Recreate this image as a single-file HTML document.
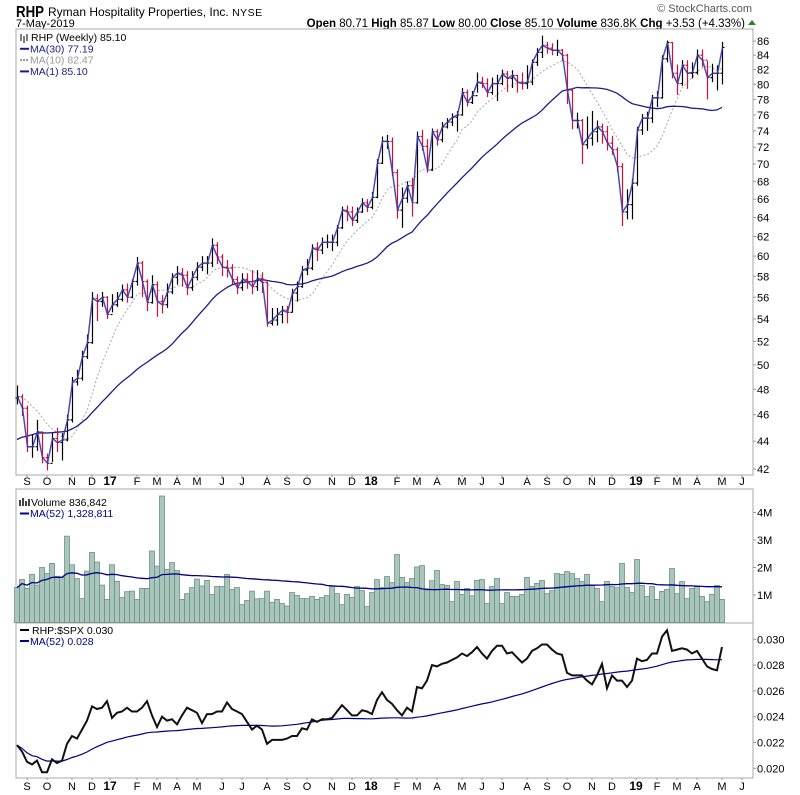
<!DOCTYPE html>
<html><head><meta charset="utf-8"><style>
body{margin:0;background:#fff;}
svg{display:block;font-family:"Liberation Sans",sans-serif;}
</style></head><body>
<svg id="chart" width="800" height="795" viewBox="0 0 800 795" xmlns="http://www.w3.org/2000/svg">
<text x="16" y="17" font-size="16" font-weight="bold" fill="#000" textLength="28" lengthAdjust="spacingAndGlyphs">RHP</text>
<text x="48" y="16" font-size="12" fill="#000">Ryman Hospitality Properties, Inc. <tspan font-size="10.5" letter-spacing="0.5">NYSE</tspan></text>
<text x="16" y="27" font-size="11" fill="#000">7-May-2019</text>
<text x="745" y="27" font-size="11.5" text-anchor="end" fill="#000"><tspan font-weight="bold">Open</tspan> 80.71 <tspan font-weight="bold">High</tspan> 85.87 <tspan font-weight="bold">Low</tspan> 80.00 <tspan font-weight="bold">Close</tspan> 85.10 <tspan font-weight="bold">Volume</tspan> 836.8K <tspan font-weight="bold">Chg</tspan> +3.53 (+4.33%)</text>
<polygon points="748,25 756,25 752,20" fill="#2e7d32"/>
<text x="752" y="12" font-size="11" text-anchor="end" fill="#555">© StockCharts.com</text>
<g id="g"></g>
</svg>
<script>
// ---------- data ----------
const months = ["S","O","N","D","17","F","M","A","M","J","J","A","S","O","N","D","18","F","M","A","M","J","J","A","S","O","N","D","19","F","M","A","M","J"];
const monthWeek = [2,6,11,15,18.6,24,28,32,36,41,45,50,54,58,63,67,70.8,76,80,84,89,93,97,102,106,110,115,119,123.8,128,132,136,141,145];
const priorCloses = [41.5,41.0,40.5,41.2,42.0,42.8,43.5,42.9,43.3,44.0,43.6,42.8,42.1,42.5,43.0,43.4,42.9,42.6,42.4,43.0,45.5,46.8,47.6,48.2,47.9,47.4,47.8,46.9,47.3];
const closes = [47.4,46.5,43.6,43.6,44.7,42.8,42.4,44.2,43.9,44.1,
45.6,48.6,48.9,50.7,51.9,55.9,55.6,56.0,54.4,55.3,
55.8,56.7,56.0,57.5,59.3,57.5,55.5,57.2,55.6,55.3,
56.5,57.9,58.3,58.1,56.9,57.9,58.9,59.3,59.3,61.1,
59.9,58.9,58.8,57.7,56.9,57.7,57.5,57.0,57.8,57.4,
53.6,53.9,54.4,54.8,54.6,56.4,57.0,58.6,58.8,60.8,
60.6,61.4,61.4,61.4,62.9,64.8,64.6,63.7,64.6,65.6,
65.1,66.2,70.1,72.7,72.7,69.0,64.8,66.1,67.5,65.6,
73.3,72.1,69.3,73.9,72.9,74.5,75.1,75.7,76.0,78.9,
77.6,78.5,80.3,80.1,78.9,80.1,80.1,81.4,80.8,81.2,
80.3,80.1,80.3,83.0,84.4,85.4,85.0,84.7,84.7,84.0,
79.2,75.3,75.3,72.3,73.1,73.9,74.5,73.9,72.5,71.7,
69.7,64.6,65.4,67.8,74.1,75.6,75.6,78.2,78.2,83.5,
85.8,81.5,80.1,82.6,81.5,81.6,84.0,83.3,80.9,81.5,
81.5,85.1];
const highs = [48.3,47.6,46.7,44.5,45.6,44.7,43.1,44.6,45.0,44.6,
46.0,49.0,49.6,51.2,52.6,56.5,56.3,56.5,56.1,56.3,
56.5,57.2,57.3,57.7,59.9,59.5,57.7,58.1,57.5,56.2,
57.3,58.3,59.0,58.8,58.5,58.5,59.4,60.0,60.0,61.8,
61.4,60.2,59.6,59.2,58.0,58.3,58.3,58.6,58.6,58.4,
57.5,55.0,55.0,55.2,55.2,56.8,57.5,59.0,59.7,61.2,
61.4,61.9,62.2,62.2,63.2,65.2,65.3,65.2,65.1,66.1,
66.0,66.8,70.6,73.3,73.5,73.2,69.4,67.3,68.0,68.4,
73.9,74.1,73.0,74.3,74.2,75.1,75.6,76.2,76.5,79.5,
79.3,79.1,81.6,81.0,80.8,80.9,81.3,82.0,81.8,81.9,
81.3,81.6,82.6,83.4,85.0,86.8,85.9,85.7,86.2,84.9,
84.2,79.5,76.3,75.5,75.8,76.5,75.3,74.9,74.6,73.4,
72.0,70.1,67.1,68.3,74.5,76.1,76.4,78.6,79.1,84.0,
86.1,85.9,82.7,83.3,83.3,83.0,84.8,84.8,83.2,82.8,
82.6,85.9];
const lows = [46.8,45.9,43.2,42.8,43.3,42.4,41.9,42.5,43.2,42.6,
44.0,45.4,48.3,48.7,50.5,51.8,53.8,55.1,54.0,54.6,
55.1,55.6,55.5,55.9,57.1,56.0,54.7,55.4,54.2,54.5,
55.0,56.3,57.2,57.0,56.2,56.6,57.6,58.5,58.2,58.9,
59.2,58.0,57.9,57.2,56.3,56.6,56.8,56.3,56.6,56.4,
53.3,53.4,53.4,53.6,53.6,54.6,55.6,56.9,58.1,58.6,
59.5,60.2,60.8,60.5,61.0,62.8,63.6,63.1,63.4,64.5,
64.6,64.9,66.1,70.0,71.8,68.6,63.9,62.9,65.6,64.1,
65.5,71.6,69.0,69.2,72.2,72.6,74.3,74.6,73.9,75.9,
77.1,77.4,78.9,79.5,78.3,78.6,77.8,79.9,79.0,79.5,
78.9,79.3,79.4,79.9,82.5,83.6,84.2,84.0,83.9,83.2,
77.4,74.2,74.3,70.0,71.8,72.2,72.6,72.4,71.6,71.1,
69.1,63.1,63.8,63.8,67.5,73.5,74.0,75.0,77.0,78.1,
83.0,80.8,78.6,79.8,79.4,80.8,81.3,82.4,78.0,80.3,
79.2,80.0];
const volumeM = [1.27,1.56,1.24,1.75,1.36,2.0,1.78,2.15,1.68,1.64,
3.14,2.1,1.6,0.87,1.87,2.55,2.2,1.36,0.84,2.1,
1.5,0.91,1.12,1.14,0.84,1.24,1.24,2.6,2.05,4.6,
1.93,2.18,1.89,0.84,1.05,1.27,1.58,1.33,1.53,1.02,
1.31,1.31,1.75,1.2,1.27,0.65,0.8,1.14,0.86,0.87,
1.14,0.73,0.84,0.69,0.6,1.09,0.98,0.87,0.87,0.95,
0.84,0.91,0.98,1.31,1.05,0.65,1.02,0.91,1.31,1.16,
0.58,1.09,1.56,1.27,1.67,1.45,2.47,1.64,1.45,1.6,
2.02,2.07,1.18,1.52,1.89,1.38,1.35,0.76,1.49,1.02,
1.24,0.97,1.53,1.56,0.69,1.31,1.6,0.69,1.09,0.95,
0.95,1.02,1.64,1.31,1.42,1.53,1.05,1.16,1.78,1.75,
1.85,1.78,1.6,1.49,1.75,1.35,1.24,0.76,1.49,1.31,
1.27,2.15,1.27,1.09,2.29,1.35,0.95,1.31,0.84,1.13,
1.2,1.96,1.05,1.49,0.87,1.24,1.31,0.95,0.76,1.02,
1.35,0.84];
const ratio = [.0218,.0213,.0205,.0203,.0206,.0197,.0197,.0207,.0204,.0206,
.0219,.0225,.0223,.0230,.0237,.0248,.0246,.0247,.0252,.0239,
.0243,.0244,.0247,.0244,.0244,.0247,.0252,.0241,.0232,.0240,
.0237,.0238,.0234,.0241,.0247,.0245,.0243,.0235,.0242,.0242,
.0244,.0244,.0251,.0246,.0244,.0242,.0236,.0230,.0233,.0230,
.0219,.0222,.0222,.0222,.0223,.0225,.0225,.0231,.0230,.0238,
.0236,.0238,.0238,.0239,.0244,.0249,.0245,.0241,.0241,.0245,
.0244,.0242,.0253,.0259,.0253,.0250,.0245,.0241,.0247,.0244,
.0263,.0262,.0268,.0280,.0279,.0281,.0282,.0284,.0286,.0289,
.0287,.0290,.0294,.0289,.0285,.0291,.0295,.0295,.0289,.0290,
.0286,.0282,.0285,.0291,.0293,.0296,.0296,.0292,.0289,.0288,
.0274,.0272,.0272,.0272,.0268,.0265,.0272,.0281,.0262,.0272,
.0268,.0268,.0263,.0268,.0285,.0283,.0284,.0289,.0289,.0302,
.0307,.0291,.0292,.0293,.0292,.0289,.0291,.0285,.0279,.0277,
.0276,.0294];
const priceTicks = [42,44,46,48,50,52,54,56,58,60,62,64,66,68,70,72,74,76,78,80,82,84,86];
const volTicks = [1,2,3,4];
const volTickLabels = ["1M","2M","3M","4M"];
const ratioTicks = [0.020,0.022,0.024,0.026,0.028,0.030];

// ---------- geometry ----------
const L=16,R=753;
const X = i => 17 + 5*i;
const P = {top:29,bot:475};
const V = {top:489,bot:623};
const Q = {top:623,bot:778};
const yP = p => 469 - 597*Math.log(p/42);
const yV = v => 622.5 - 27.5*v;
const yQ = r => 639.3 + (0.030 - r)*12900;
const NS="http://www.w3.org/2000/svg";
const g=document.getElementById('g');
function mk(tag,attrs,parent){const e=document.createElementNS(NS,tag);for(const k in attrs)e.setAttribute(k,attrs[k]);(parent||g).appendChild(e);return e;}
function line(pts){return pts.map((p,i)=>(i?'L':'M')+p[0].toFixed(1)+','+p[1].toFixed(1)).join('');}
function ma(arr,n,prior){const all=(prior||[]).concat(arr),off=(prior||[]).length,out=[];for(let i=0;i<arr.length;i++){const j=i+off,s=Math.max(0,j-n+1);let sum=0;for(let k=s;k<=j;k++)sum+=all[k];out.push(sum/(j-s+1));}return out;}

let e;
e=mk('rect',{x:L,y:P.top,width:R-L,height:P.bot-P.top,fill:'#fff',stroke:'#aaa'});

e=mk('rect',{x:L,y:V.top,width:R-L,height:V.bot-V.top,fill:'#fff',stroke:'#aaa'});

e=mk('rect',{x:L,y:Q.top,width:R-L,height:Q.bot-Q.top,fill:'#fff',stroke:'#aaa'});


[481,786].forEach((yy,row)=>{
  months.forEach((m,k)=>{
    const t=mk('text',{x:X(monthWeek[k]),y:yy+4,'font-size':(m.length>1?'12':'11'),'font-weight':(m.length>1?'bold':'normal'),'text-anchor':'middle',fill:'#000'});
    t.textContent=m;
    
    
    mk('line',{x1:X(monthWeek[k]),x2:X(monthWeek[k]),y1:row?Q.bot:P.bot,y2:(row?Q.bot:P.bot)+2,stroke:'#999'});
  });
});

priceTicks.forEach(p=>{
  const y=yP(p);
  mk('line',{x1:R,x2:R+3,y1:y,y2:y,stroke:'#999'});
  const t=mk('text',{x:R+4,y:y+4,'font-size':'11',fill:'#000'});
  t.textContent=p;
  
  
});

const ma30=ma(closes,30,priorCloses), ma10=ma(closes,10,priorCloses);
e=mk('path',{d:line(ma10.map((v,i)=>[X(i),yP(v)])),fill:'none',stroke:'#b4b4b4','stroke-width':1.2,'stroke-dasharray':'2,2'});

e=mk('path',{d:line(ma30.map((v,i)=>[X(i),yP(v)])),fill:'none',stroke:'#1c1c8c','stroke-width':1.3});


closes.forEach((c,i)=>{
  const o = i? closes[i-1] : priorCloses[priorCloses.length-1];
  const col = c<o ? '#d0103a' : '#000';
  const x=X(i)+0.5;
  const b=mk('path',{d:`M${x},${yP(highs[i])}V${yP(lows[i])}M${x-2},${yP(o)}H${x}M${x},${yP(c)}H${x+2}`,stroke:col,'stroke-width':1.2,fill:'none'});
  
  
});
e=mk('path',{d:line(closes.map((v,i)=>[X(i)+0.5,yP(v)])),fill:'none',stroke:'#3a3aa8','stroke-width':1.5,'stroke-opacity':0.9});


const lg=[['RHP (Weekly) 85.10','#000',null],['MA(30) 77.19','#1c1c8c','solid'],['MA(10) 82.47','#999','dot'],['MA(1) 85.10','#1c1c8c','solid']];
lg.forEach((r,k)=>{
  const y=41+k*11.3;
  if(r[2]){mk('line',{x1:20,x2:29,y1:y-3.5,y2:y-3.5,stroke:r[1],'stroke-width':2,'stroke-dasharray':r[2]==='dot'?'2,1':'none'});}
  const t=mk('text',{x:r[2]?30:31,y:y,'font-size':'10.5',fill:r[1]});
  t.textContent=r[0];
  
  
});
mk('path',{d:'M21,34V41M24,36V43M27,34V41',stroke:'#000','stroke-width':1});

volumeM.forEach((v,i)=>{
  const r=mk('rect',{x:X(i)-2.5,y:yV(v),width:5,height:622.5-yV(v),fill:'#a9c6bc',stroke:'#6f9086','stroke-width':0.8});
  
  
});
const vma=ma(volumeM,52);
e=mk('path',{d:line(vma.map((v,i)=>[X(i),yV(v)])),fill:'none',stroke:'#00008b','stroke-width':1.3});

volTicks.forEach((v,k)=>{
  const y=yV(v);
  mk('line',{x1:R,x2:R+3,y1:y,y2:y,stroke:'#999'});
  const t=mk('text',{x:R+4,y:y+4,'font-size':'11',fill:'#000'});
  t.textContent=volTickLabels[k];
  
  
});
mk('path',{d:'M20,506V500M23,506V498M26,506V501M29,506V499',stroke:'#444','stroke-width':2});
e=mk('text',{x:31,y:506,'font-size':'10.5',fill:'#000'});e.textContent='Volume 836,842';

mk('line',{x1:20,x2:29,y1:513.5,y2:513.5,stroke:'#00008b','stroke-width':2});
e=mk('text',{x:30,y:517,'font-size':'10.5',fill:'#00008b'});e.textContent='MA(52) 1,328,811';


ratioTicks.forEach(r=>{
  const y=yQ(r);
  mk('line',{x1:R,x2:R+3,y1:y,y2:y,stroke:'#999'});
  const t=mk('text',{x:R+4,y:y+4,'font-size':'11',fill:'#000'});
  t.textContent=r.toFixed(3);
  
  
});
const rma=ma(ratio,52);
e=mk('path',{d:line(rma.map((v,i)=>[X(i),yQ(v)])),fill:'none',stroke:'#00008b','stroke-width':1.2});

e=mk('path',{d:line(ratio.map((v,i)=>[X(i),yQ(v)])),fill:'none',stroke:'#111','stroke-width':2});

mk('line',{x1:20,x2:29,y1:630,y2:630,stroke:'#000','stroke-width':2});
e=mk('text',{x:32,y:634,'font-size':'10.5',fill:'#000'});e.textContent='RHP:$SPX 0.030';

mk('line',{x1:20,x2:29,y1:641,y2:641,stroke:'#00008b','stroke-width':2});
e=mk('text',{x:30,y:645,'font-size':'10.5',fill:'#00008b'});e.textContent='MA(52) 0.028';

</script>
</body></html>
